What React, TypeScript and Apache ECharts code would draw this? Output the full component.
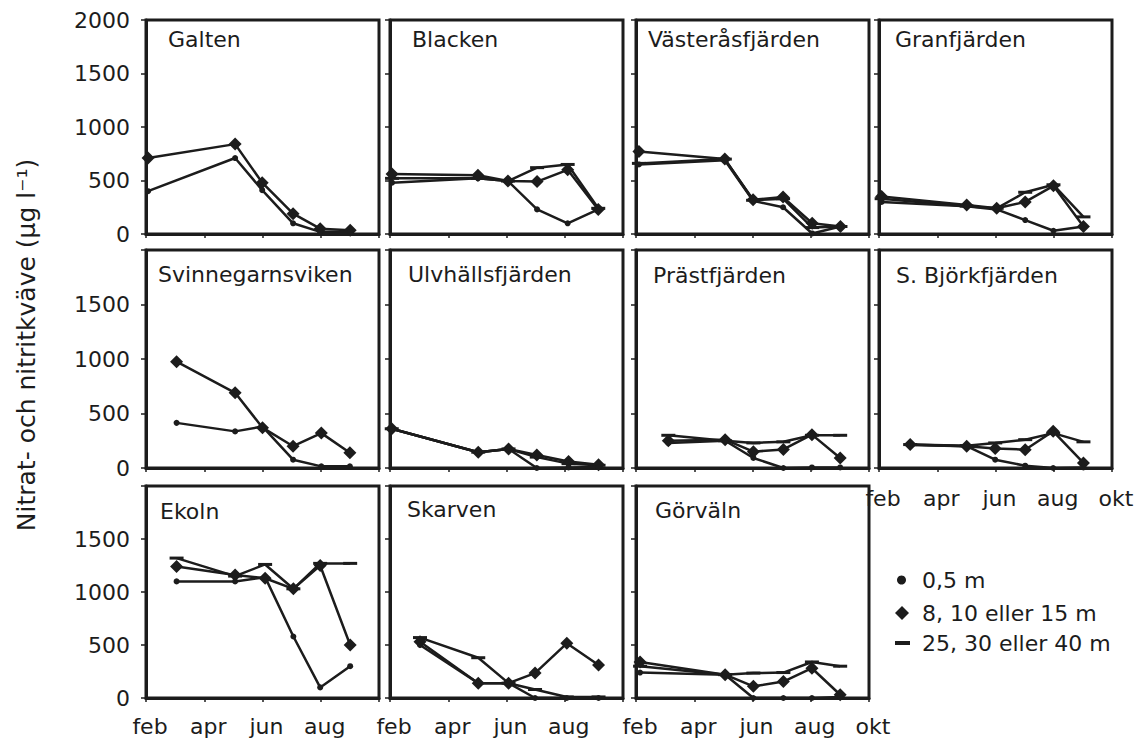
import React, { useEffect, useRef } from "react";
import * as echarts from "echarts";

// ---------- data ----------
const PANEL_NAMES = [
  "Galten", "Blacken", "Västeråsfjärden", "Granfjärden",
  "Svinnegarnsviken", "Ulvhällsfjärden", "Prästfjärden", "S. Björkfjärden",
  "Ekoln", "Skarven", "Görväln",
];
const SERIES_NAMES = ["0,5 m", "8, 10 eller 15 m", "25, 30 eller 40 m"];
const MONTH_TICKS = [2, 4, 6, 8, 10]; // month number, feb = 2
const MONTH_NAMES = ["feb", "apr", "jun", "aug", "okt"];
const Y_TICKS = [0, 500, 1000, 1500, 2000];

// sampling dates (month number) and values (µg/l) per basin
const galtenDates = [2.07, 5.06, 5.99, 7.05, 7.98, 9.01];
const galten05 = [400, 710, 410, 100, 20, 20];
const galten10 = [710, 840, 480, 190, 50, 35];

const blackenDates = [2.07, 5.02, 6.05, 7.05, 8.1, 9.15];
const blacken05 = [480, 520, 495, 230, 100, 230];
const blacken10 = [560, 550, 495, 490, 600, 230];
const blacken30 = [520, 520, 495, 620, 650, 240];

const vasterasDates = [2.1, 5.05, 6.02, 7.05, 8.05, 9.02];
const vasteras05 = [650, 690, 310, 250, 5, 70];
const vasteras10 = [770, 700, 320, 345, 100, 70];
const vasteras30 = [660, 700, 315, 330, 60, 70];

const granDates = [2.09, 5.01, 6.04, 7.02, 7.99, 9.02];
const gran05 = [300, 260, 230, 130, 30, 70];
const gran10 = [350, 270, 240, 300, 450, 70];
const gran30 = [330, 260, 240, 390, 460, 160];

const svinDates = [3.05, 5.06, 6.0, 7.05, 8.02, 9.0];
const svin05 = [414, 336, 380, 76, 15, 15];
const svin10 = [975, 690, 370, 200, 320, 140];

const ulvDates = [2.06, 5.03, 6.07, 7.04, 8.13, 9.16];
const ulv05 = [360, 145, 175, 0, 5, 10];
const ulv10 = [360, 145, 175, 120, 60, 30];
const ulv30 = [360, 145, 175, 100, 40, 25];

const prastDates = [3.11, 5.06, 6.03, 7.06, 8.04, 9.01];
const prast05 = [230, 250, 92, 0, 5, 5];
const prast10 = [250, 260, 150, 170, 306, 92];
const prast30 = [300, 250, 230, 240, 300, 300];

const bjorkDates = [3.07, 5.01, 5.99, 7.02, 7.98, 9.02];
const bjork05 = [210, 200, 76, 21, 0, 5];
const bjork10 = [215, 200, 180, 168, 337, 46];
const bjork30 = [215, 205, 230, 260, 320, 240];

const ekolnDates = [3.05, 5.06, 6.09, 7.06, 7.98, 9.01];
const ekoln05 = [1100, 1100, 1140, 580, 100, 300];
const ekoln10 = [1240, 1160, 1130, 1030, 1250, 500];
const ekoln30 = [1320, 1150, 1260, 1030, 1270, 1270];

const skarvenDates = [3.03, 5.03, 6.07, 6.98, 8.07, 9.16];
const skarven05 = [500, 140, 140, 0, 0, 0];
const skarven10 = [530, 140, 140, 235, 516, 312];
const skarven30 = [570, 380, 140, 80, 10, 10];

const gorvalnDates = [2.14, 5.06, 6.03, 7.06, 8.04, 9.01];
const gorvaln05 = [240, 220, 0, 0, 0, 10];
const gorvaln10 = [340, 220, 110, 155, 281, 31];
const gorvaln30 = [300, 220, 235, 240, 340, 300];

const PANELS = [
  { dates: galtenDates, s: [galten05, galten10, null] },
  { dates: blackenDates, s: [blacken05, blacken10, blacken30] },
  { dates: vasterasDates, s: [vasteras05, vasteras10, vasteras30] },
  { dates: granDates, s: [gran05, gran10, gran30] },
  { dates: svinDates, s: [svin05, svin10, null] },
  { dates: ulvDates, s: [ulv05, ulv10, ulv30] },
  { dates: prastDates, s: [prast05, prast10, prast30] },
  { dates: bjorkDates, s: [bjork05, bjork10, bjork30] },
  { dates: ekolnDates, s: [ekoln05, ekoln10, ekoln30] },
  { dates: skarvenDates, s: [skarven05, skarven10, skarven30] },
  { dates: gorvalnDates, s: [gorvaln05, gorvaln10, gorvaln30] },
];

// ---------- layout ----------
const COL_LEFT = [146, 390, 636, 879];
const ROW_TOP = [20, 250, 486];
const ROW_H = [214, 218, 212];
const BOX_W = 233;
const TITLE_DX = [22, 22, 12, 16, 12, 18, 17, 17, 14, 17, 19];
const TITLE_Y = [28, 28, 28, 28, 263, 263, 264, 264, 500, 498, 499];
// panels that show x-axis labels, and whether "okt" is shown
const XLABEL = { 7: true, 8: false, 9: false, 10: true };

const FONT = "DejaVu Sans";
const INK = "#1c1c1c";

function buildOption() {
  const grid: any[] = [];
  const xAxis: any[] = [];
  const yAxis: any[] = [];
  const series: any[] = [];
  const title: any[] = [];

  PANEL_NAMES.forEach((name, i) => {
    const row = Math.floor(i / 4);
    const col = i % 4;
    const left = COL_LEFT[col];
    const top = ROW_TOP[row];
    grid.push({
      left, top, width: BOX_W, height: ROW_H[row],
      show: true, borderColor: INK, borderWidth: 3, containLabel: false,
    });
    const hasX = Object.prototype.hasOwnProperty.call(XLABEL, i);
    const showOkt = (XLABEL as any)[i];
    xAxis.push({
      type: "value", gridIndex: i, min: 2, max: 10, interval: 2,
      axisLine: { show: true, onZero: false, lineStyle: { color: INK, width: 3 } },
      axisTick: { show: true, length: 4, lineStyle: { color: INK, width: 1.5 } },
      splitLine: { show: false },
      axisLabel: {
        show: hasX,
        margin: i === 7 ? 19 : 17,
        fontFamily: FONT, fontSize: 22, color: INK,
        padding: [0, 0, 0, 8],
        formatter: (v: number) => {
          const k = MONTH_TICKS.indexOf(v);
          if (k < 0) return "";
          if (v === 10 && !showOkt) return "";
          return MONTH_NAMES[k];
        },
      },
    });
    yAxis.push({
      type: "value", gridIndex: i, min: 0, max: 2000, interval: 500,
      axisLine: { show: true, lineStyle: { color: INK, width: 3 } },
      axisTick: { show: true, length: 5, lineStyle: { color: INK, width: 1.5 } },
      splitLine: { show: false },
      axisLabel: {
        show: col === 0,
        margin: 16,
        fontFamily: FONT, fontSize: 22, color: INK,
        formatter: (v: number) => (Y_TICKS.indexOf(v) < 0 || (row > 0 && v === 2000) ? "" : String(v)),
      },
    });
    title.push({
      text: name,
      left: left + TITLE_DX[i],
      top: TITLE_Y[i],
      padding: 0,
      textStyle: { fontFamily: FONT, fontSize: 22, fontWeight: "normal", color: INK },
    });

    const p = PANELS[i];
    p.s.forEach((vals, k) => {
      if (!vals) return;
      const data = p.dates.map((d, j) => [d, vals[j]]);
      const sym = k === 0 ? "circle" : k === 1 ? "diamond" : "rect";
      const size = k === 0 ? 6 : k === 1 ? 13 : [14, 3];
      series.push({
        type: "line",
        name: SERIES_NAMES[k],
        xAxisIndex: i, yAxisIndex: i,
        data,
        symbol: sym,
        symbolSize: size,
        showAllSymbol: true,
        z: 3 + (2 - k),
        lineStyle: { color: INK, width: 2.5 },
        itemStyle: { color: INK, borderWidth: 0 },
        emphasis: { disabled: true },
      });
    });
  });

  const legendBase = {
    orient: "vertical", padding: 0, selectedMode: false,
    textStyle: { fontFamily: FONT, fontSize: 22, color: INK },
  };

  return {
    animation: false,
    backgroundColor: "#ffffff",
    grid, xAxis, yAxis, series, title,
    legend: [
      { ...legendBase, data: [{ name: SERIES_NAMES[0], icon: "circle" }], left: 897, top: 569, itemWidth: 9, itemHeight: 9,
        textStyle: { ...legendBase.textStyle, padding: [0, 0, 0, 11] } },
      { ...legendBase, data: [{ name: SERIES_NAMES[1], icon: "diamond" }], left: 895, top: 602, itemWidth: 14, itemHeight: 14,
        textStyle: { ...legendBase.textStyle, padding: [0, 0, 0, 8] } },
      { ...legendBase, data: [{ name: SERIES_NAMES[2], icon: "rect" }], left: 895, top: 632, itemWidth: 15, itemHeight: 4,
        textStyle: { ...legendBase.textStyle, padding: [0, 0, 0, 7] } },
    ],
    graphic: [
      {
        type: "text",
        x: 26, y: 345,
        rotation: Math.PI / 2,
        style: {
          text: "Nitrat- och nitritkväve (µg l⁻¹)",
          fontFamily: FONT, fontSize: 25, fill: INK,
          align: "center", verticalAlign: "middle",
        },
      },
    ],
  };
}

export default function App() {
  const ref = useRef<HTMLDivElement>(null);
  useEffect(() => {
    if (!ref.current) return;
    const chart = echarts.init(ref.current, undefined, { renderer: "svg" });
    chart.setOption(buildOption() as any);
    return () => chart.dispose();
  }, []);
  return (
    <div
      ref={ref}
      style={{ position: "fixed", left: 0, top: 0, width: 1145, height: 742, background: "#fff" }}
    />
  );
}
